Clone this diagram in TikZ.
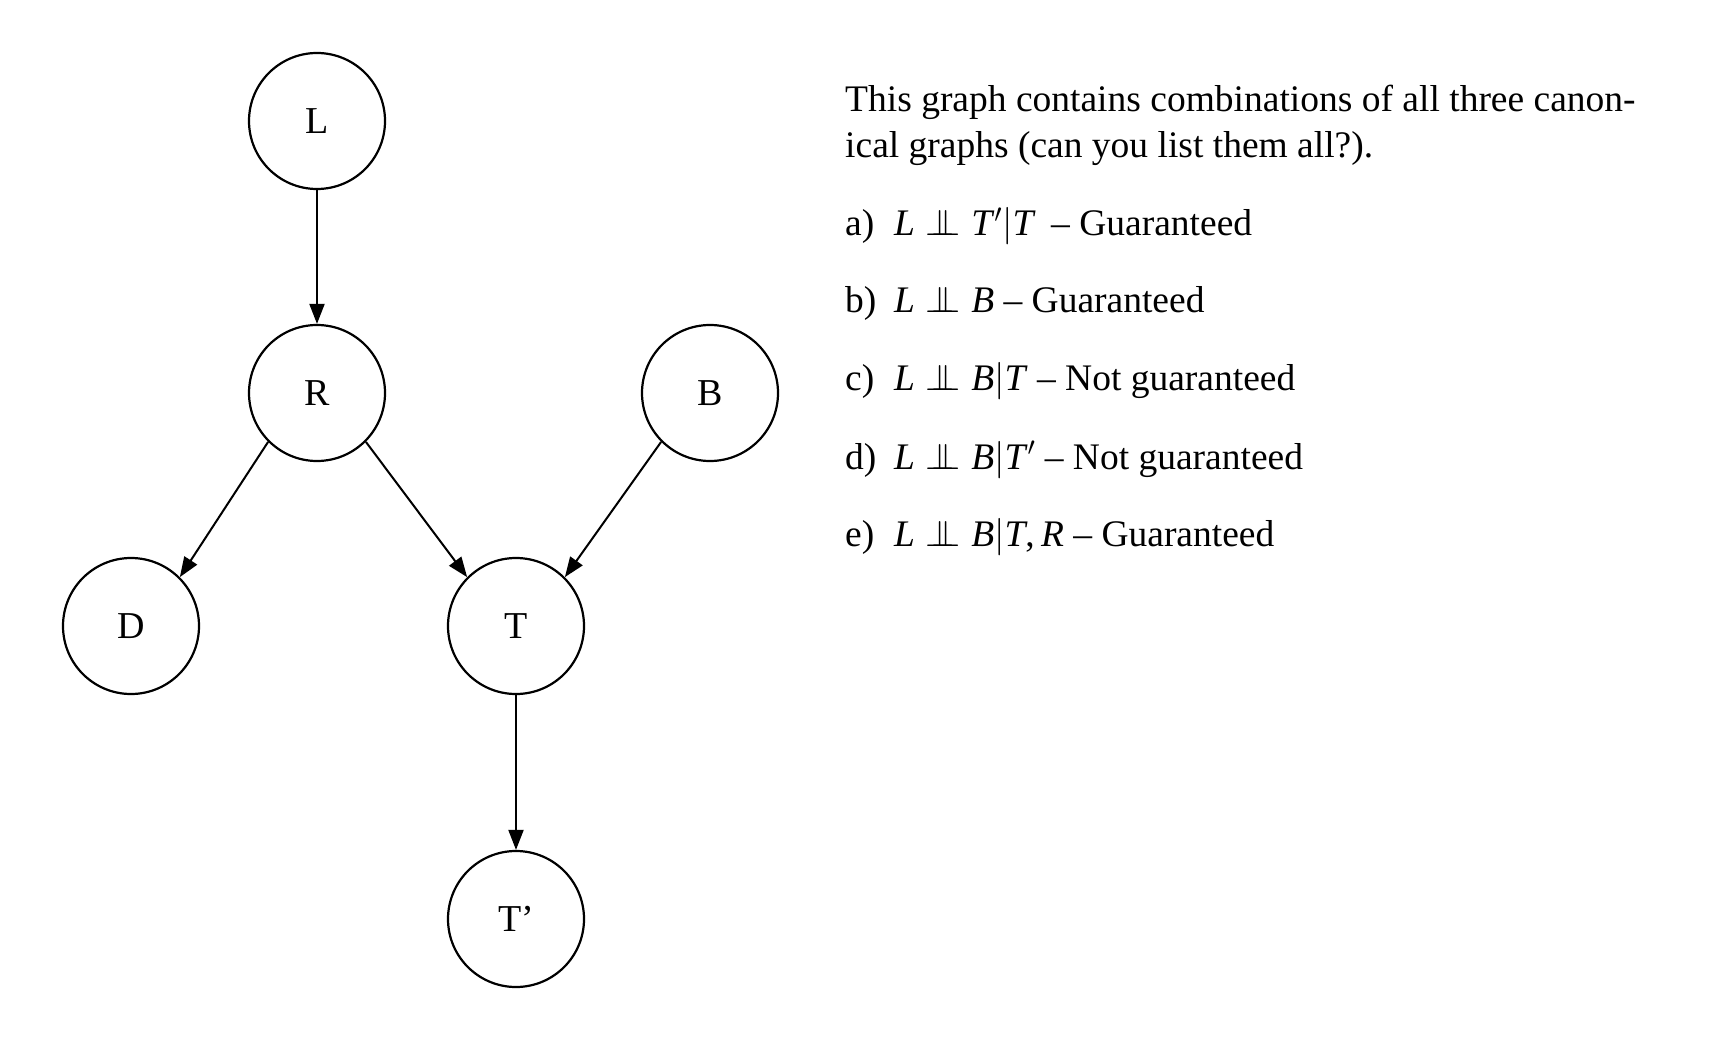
\RequirePackage{fix-cm}
\documentclass[tikz,border=0pt]{standalone}
\usepackage{fontspec}
\setmainfont{Liberation Serif}
\usetikzlibrary{arrows.meta}
\newcommand{\indep}{$\;\perp\mkern-11mu\perp\;$}
\begin{document}
\begin{tikzpicture}[x=1pt,y=-1pt,
  var/.style={circle, draw, line width=2.2pt, minimum size=136pt, inner sep=0pt, font=\fontsize{38}{38}\selectfont},
  edge/.style={line width=2pt, -{Triangle[length=20pt,width=15pt]}},
  txt/.style={anchor=base west, inner sep=0pt, font=\fontsize{37.5}{46}\selectfont}]
\useasboundingbox (0,0) rectangle (1713,1048);
\node[var] (L) at (317,121) {L};
\node[var] (R) at (317,393) {R};
\node[var] (B) at (710,393) {B};
\node[var] (D) at (131,626) {D};
\node[var] (T) at (516,626) {T};
\node[var] (Tp) at (516,919) {T’};
\draw[edge] (L) -- (R);
\draw[edge] (R.225) -- (D.45);
\draw[edge] (R.315) -- (T.135);
\draw[edge] (B.225) -- (T.45);
\draw[edge] (T) -- (Tp);
\node[txt] (t1) at (845,112) {This graph contains combinations of all three canon-};
\node[txt] (t2) at (845,158) {ical graphs (can you list them all?).};
\node[txt] (la) at (845,236) {a)};
\node[txt] (ma) at (894,236) {\textit{L}\indep\textit{T}$'|$\textit{T}\, – Guaranteed};
\node[txt] (lb) at (845,313) {b)};
\node[txt] (mb) at (894,313) {\textit{L}\indep\textit{B} – Guaranteed};
\node[txt] (lc) at (845,391) {c)};
\node[txt] (mc) at (894,391) {\textit{L}\indep\textit{B}$|$\textit{T} – Not guaranteed};
\node[txt] (ld) at (845,469) {d)};
\node[txt] (md) at (894,469) {\textit{L}\indep\textit{B}$|$\textit{T}$'$ – Not guaranteed};
\node[txt] (le) at (845,546) {e)};
\node[txt] (me) at (894,546) {\textit{L}\indep\textit{B}$|$\textit{T},\,\textit{R} – Guaranteed};
\end{tikzpicture}
\end{document}
